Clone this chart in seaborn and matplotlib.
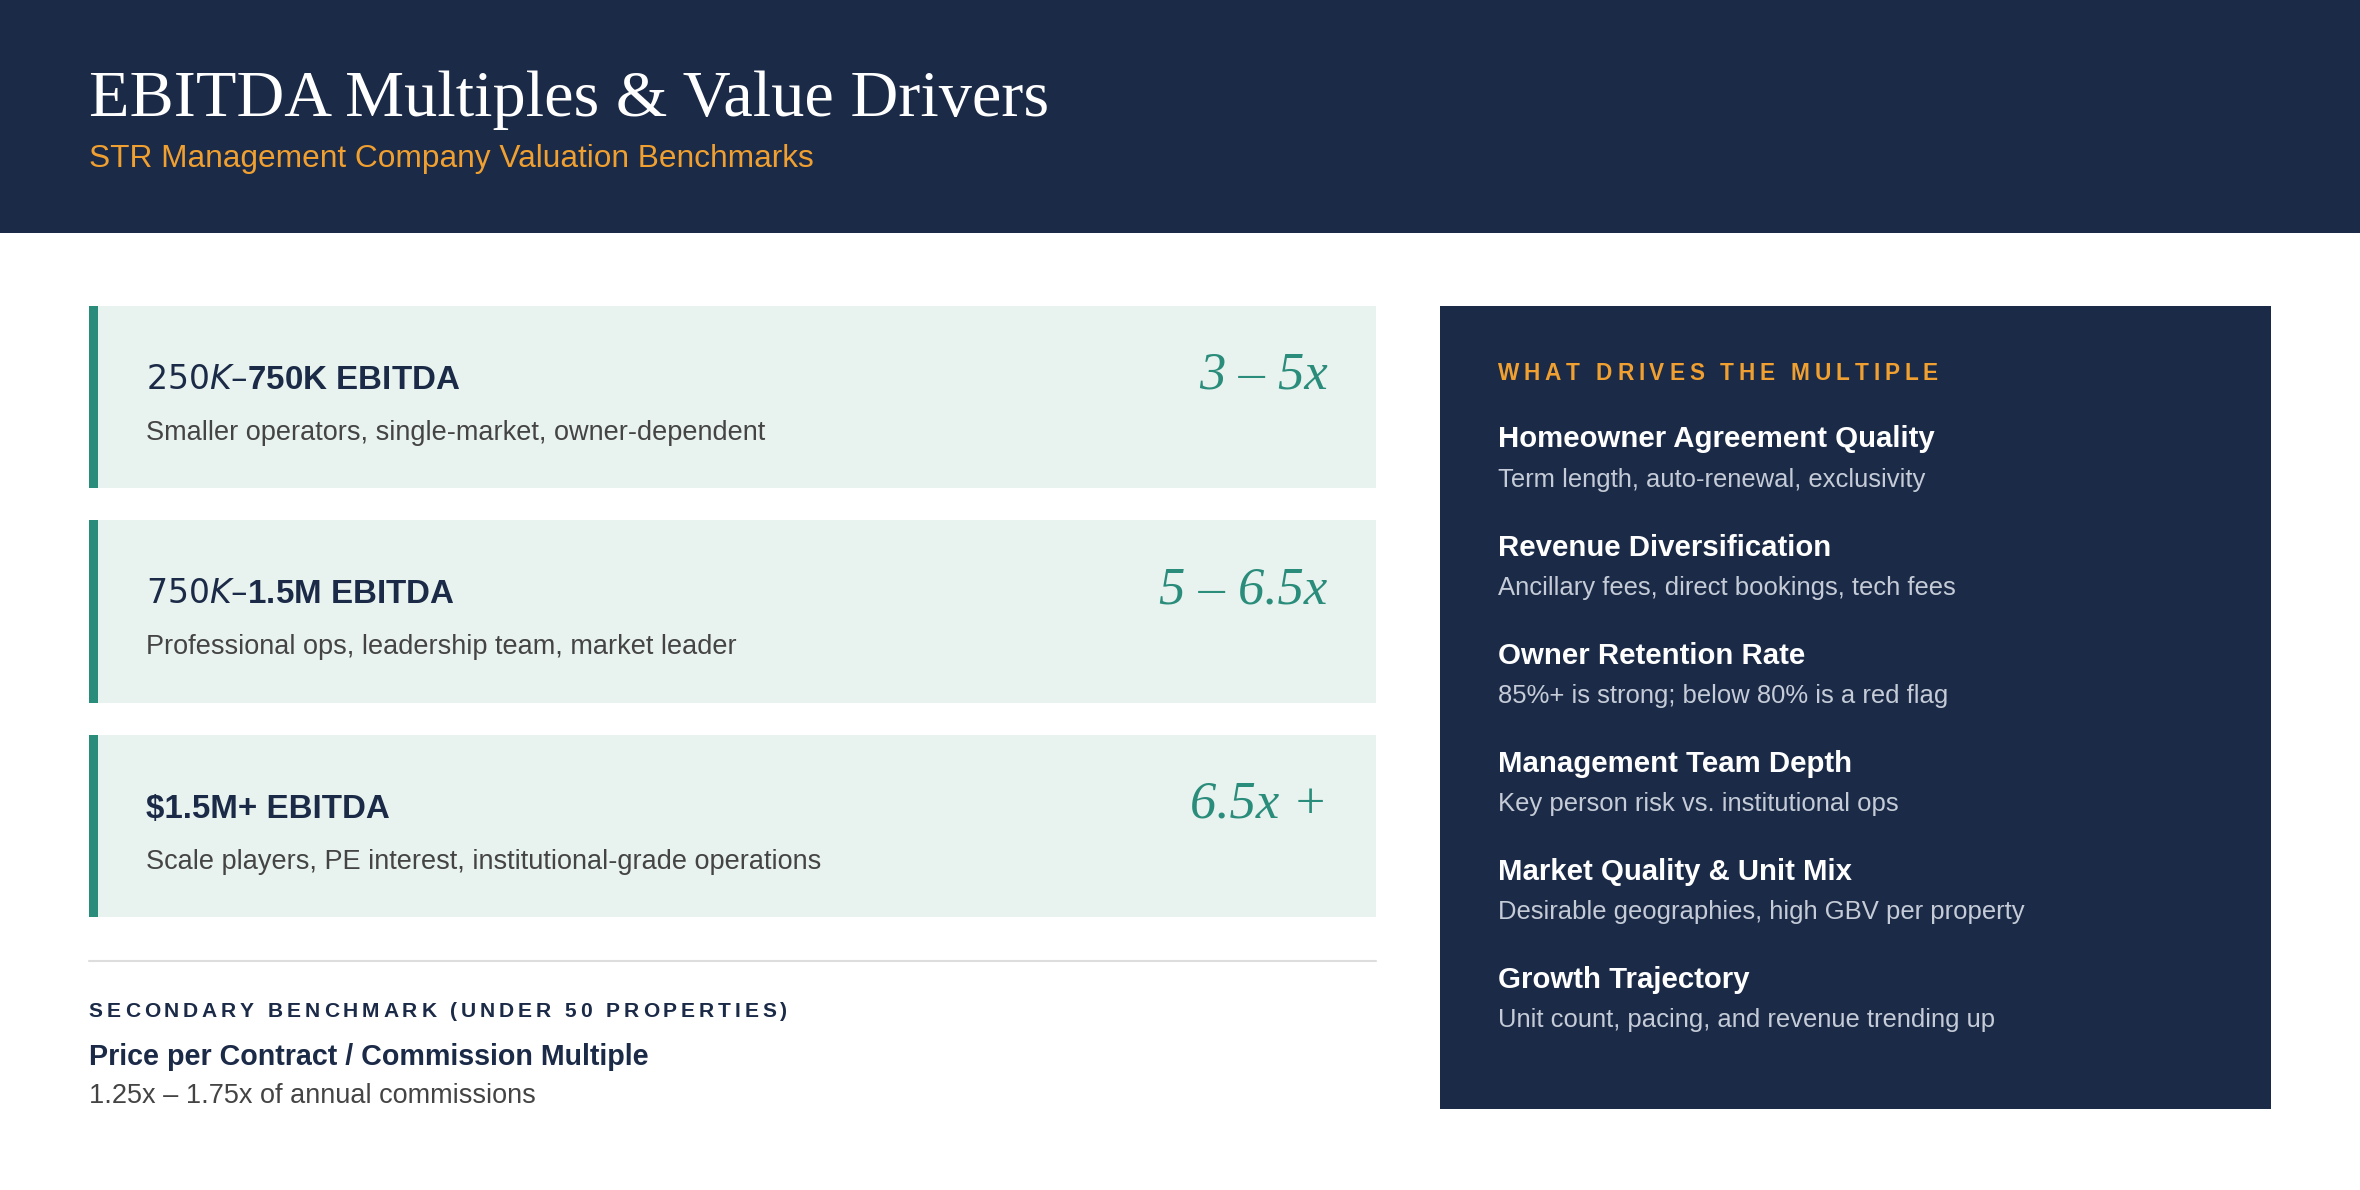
import matplotlib.pyplot as plt
import matplotlib.patches as patches
import seaborn as sns

sns.set_theme(style="white")
plt.rcParams['font.family'] = ['Liberation Sans', 'DejaVu Sans']

title = "EBITDA Multiples & Value Drivers"
subtitle = "STR Management Company Valuation Benchmarks"

tier_names = ["$250K – $750K EBITDA", "$750K – $1.5M EBITDA", "$1.5M+ EBITDA"]
tier_desc = ["Smaller operators, single-market, owner-dependent",
             "Professional ops, leadership team, market leader",
             "Scale players, PE interest, institutional-grade operations"]
tier_multiple = ["3 – 5x", "5 – 6.5x", "6.5x +"]

secondary_label = "SECONDARY BENCHMARK (UNDER 50 PROPERTIES)"
secondary_title = "Price per Contract / Commission Multiple"
secondary_value = "1.25x – 1.75x of annual commissions"

drivers_label = "WHAT DRIVES THE MULTIPLE"
driver_names = ["Homeowner Agreement Quality", "Revenue Diversification", "Owner Retention Rate",
                "Management Team Depth", "Market Quality & Unit Mix", "Growth Trajectory"]
driver_desc = ["Term length, auto-renewal, exclusivity",
               "Ancillary fees, direct bookings, tech fees",
               "85%+ is strong; below 80% is a red flag",
               "Key person risk vs. institutional ops",
               "Desirable geographies, high GBV per property",
               "Unit count, pacing, and revenue trending up"]

NAVY = "#1b2a47"
ORANGE = "#f0a030"
TEAL = "#2a8c7a"
W, H = 1568, 790
S = 1.0836  # displayed px -> pt

fig = plt.figure(figsize=(23.6, 11.9), dpi=100)
fig.patch.set_facecolor("white")


def fx(x):
    return x / W


def fy(y):
    return 1 - y / H


def rect(x0, y0, x1, y1, color):
    fig.add_artist(patches.Rectangle((fx(x0), fy(y1)), fx(x1) - fx(x0), fy(y0) - fy(y1),
                                     transform=fig.transFigure, color=color, lw=0))


def txt(x, y, s, size, color, **kw):
    return fig.text(fx(x), fy(y), s, fontsize=size * S, color=color, va="baseline", **kw)


def spaced(x, y, s, size, color, spacing):
    renderer = fig.canvas.get_renderer()
    cur = x
    for ch in s:
        t = txt(cur, y, ch, size, color, fontweight="bold")
        if ch == " ":
            w = size * 0.28
        else:
            bb = t.get_window_extent(renderer)
            w = bb.width / (2360 / W)
        cur += w + spacing


# header
rect(0, 0, W, 155, NAVY)
txt(59, 77, title, 44, "white", family=["Liberation Serif", "DejaVu Serif"])
txt(59, 111, subtitle, 21, ORANGE)

# tier cards
for i in range(len(tier_names)):
    top = 203 + i * 142.5
    rect(59, top, 914, top + 121, "#e8f2ef")
    rect(59, top, 65, top + 121, TEAL)
    txt(97, top + 55, tier_names[i], 22, NAVY, fontweight="bold")
    txt(97, top + 89, tier_desc[i], 18, "#444444")
    txt(882, top + 55, tier_multiple[i], 35, TEAL, ha="right", style="italic",
        family=["Liberation Serif", "DejaVu Serif"])

# secondary benchmark
fig.add_artist(plt.Line2D([fx(59), fx(914)], [fy(638), fy(638)], transform=fig.transFigure,
                          color="#dddddd", lw=1.5))
spaced(59, 675, secondary_label, 14, NAVY, 2.6)
txt(59, 707, secondary_title, 19, NAVY, fontweight="bold")
txt(59, 732, secondary_value, 18, "#444444")

# drivers panel
rect(957, 203, 1509, 736, NAVY)
spaced(995, 252, drivers_label, 15, ORANGE, 3.2)
for i in range(len(driver_names)):
    base = 297 + i * 71.8
    txt(995, base, driver_names[i], 19.5, "white", fontweight="bold")
    txt(995, base + 26, driver_desc[i], 17, "#c5ccd8")

fig.savefig("out.png", dpi=100, facecolor=fig.get_facecolor())
